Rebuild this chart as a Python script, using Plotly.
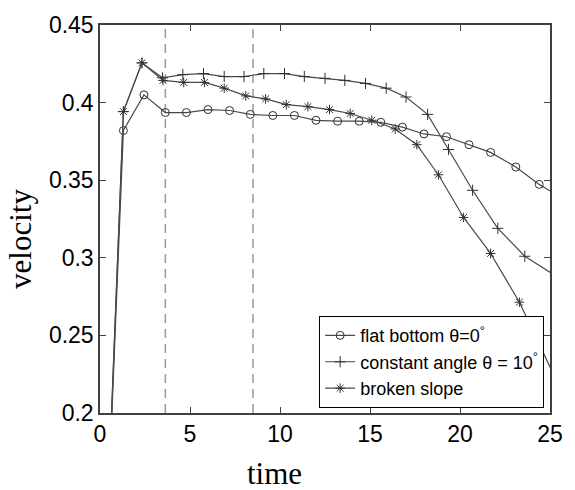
import plotly.graph_objects as go

# ---- data ----
t_flat = [0.1, 1.3, 2.44, 3.63, 4.8, 6.0, 7.2, 8.35, 9.6, 10.8, 12.0, 13.2, 14.4,
          15.6, 16.8, 18.0, 19.25, 20.5, 21.7, 23.1, 24.4, 25.6]
v_flat = [0.04, 0.382, 0.405, 0.3936, 0.3936, 0.3955, 0.3949, 0.3924, 0.3917, 0.3917,
          0.3886, 0.388, 0.388, 0.3873, 0.3842, 0.3798, 0.378, 0.3729, 0.3679, 0.3585,
          0.3473, 0.339]

t_const = [0.1, 1.3, 2.33, 3.47, 4.6, 5.75, 6.9, 8.0, 9.1, 10.25, 11.35, 12.5, 13.6,
           14.75, 15.9, 17.0, 18.2, 19.36, 20.7, 22.1, 23.6, 25.5]
v_const = [0.04, 0.3942, 0.4256, 0.416, 0.418, 0.4187, 0.4168, 0.4168, 0.4187, 0.4187,
           0.4168, 0.4156, 0.4143, 0.4124, 0.4093, 0.4036, 0.3924, 0.3698, 0.3435, 0.319,
           0.301, 0.287]

t_broken = [0.1, 1.3, 2.33, 3.5, 4.65, 5.8, 6.9, 8.1, 9.2, 10.35, 11.55, 12.75, 13.9,
            15.1, 16.4, 17.6, 18.8, 20.2, 21.7, 23.3, 25.4]
v_broken = [0.04, 0.3942, 0.4256, 0.4143, 0.413, 0.413, 0.4093, 0.4043, 0.4024, 0.3987,
            0.3974, 0.3955, 0.393, 0.3886, 0.383, 0.3729, 0.3535, 0.326, 0.3028, 0.2714,
            0.2198]

series_names = ["flat bottom θ=0<sup>°</sup>",
                "constant angle θ = 10<sup>°</sup>",
                "broken slope"]

phase_lines = [3.63, 8.5]

x_tickvals = [0, 5, 10, 15, 20, 25]
x_ticktext = ["0", "5", "10", "15", "20", "25"]
y_tickvals = [0.2, 0.25, 0.3, 0.35, 0.4, 0.45]
y_ticktext = ["0.2", "0.25", "0.3", "0.35", "0.4", "0.45"]

LINE = "#4a4a4a"
MK = "#303030"

fig = go.Figure()
fig.add_trace(go.Scatter(x=t_flat, y=v_flat, mode="lines+markers", name=series_names[0],
                         line=dict(color=LINE, width=1.2),
                         marker=dict(symbol="circle-open", size=8, color=MK,
                                     line=dict(width=1, color=MK))))
fig.add_trace(go.Scatter(x=t_const, y=v_const, mode="lines+markers", name=series_names[1],
                         line=dict(color=LINE, width=1.2),
                         marker=dict(symbol="cross-thin-open", size=8, color=MK,
                                     line=dict(width=1, color=MK))))
fig.add_trace(go.Scatter(x=t_broken, y=v_broken, mode="lines+markers", name=series_names[2],
                         line=dict(color=LINE, width=1.2),
                         marker=dict(symbol="asterisk-open", size=8, color=MK,
                                     line=dict(width=1, color=MK))))

for xv in phase_lines:
    fig.add_vline(x=xv, line=dict(color="#9a9a9a", width=1.5, dash="9px,6px"), layer="below")

axis_common = dict(showline=True, linecolor="#404040", linewidth=1.5, mirror="ticks",
                   ticks="inside", ticklen=6, tickcolor="#404040", showgrid=False,
                   zeroline=False, tickfont=dict(family="Liberation Sans, Arial", size=23,
                                                 color="black"))

fig.update_xaxes(range=[0, 25], tickvals=x_tickvals, ticktext=x_ticktext, **axis_common)
fig.update_yaxes(range=[0.2, 0.45], tickvals=y_tickvals, ticktext=y_ticktext, **axis_common)

fig.update_layout(
    width=575, height=490,
    margin=dict(l=100, r=14, t=14, b=77),
    paper_bgcolor="white", plot_bgcolor="white",
    showlegend=True,
    legend=dict(x=0.987, y=0.0125, xanchor="right", yanchor="bottom",
                bgcolor="white", bordercolor="black", borderwidth=1,
                font=dict(family="Liberation Sans, Arial", size=18, color="black"),
                itemwidth=30, tracegroupgap=0),
    annotations=[
        dict(text="velocity", xref="paper", yref="paper", x=0, xshift=-79,
             y=(413 - 234) / 399, textangle=-90, showarrow=False,
             xanchor="center", yanchor="middle",
             font=dict(family="Liberation Serif, Times New Roman, serif", size=31, color="black")),
        dict(text="time", xref="paper", yref="paper", x=(279 - 100) / 461,
             y=(413 - 490) / 399, yshift=-4, showarrow=False, xanchor="center",
             yanchor="bottom", borderpad=0,
             font=dict(family="Liberation Serif, Times New Roman, serif", size=31, color="black")),
    ],
)

fig.write_html("out.html")
